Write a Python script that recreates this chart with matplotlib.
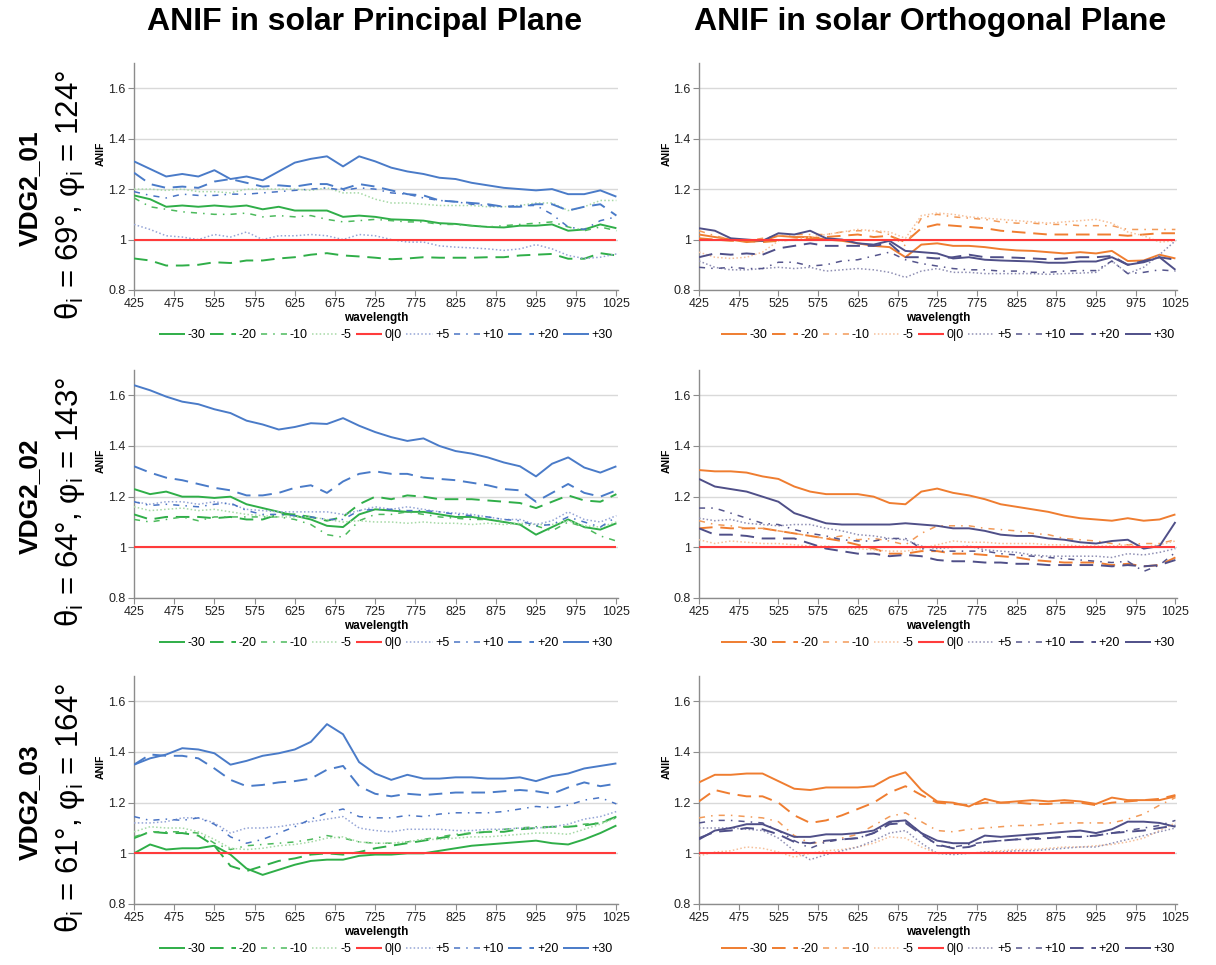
import matplotlib
matplotlib.use("Agg")
import matplotlib.pyplot as plt

plt.rcParams['font.family'] = ['Liberation Sans', 'DejaVu Sans']
plt.rcParams['mathtext.default'] = 'regular'

# wavelength grid (nm)
wl = [425, 445, 465, 485, 505, 525, 545, 565, 585, 605, 625, 645, 665, 685, 705,
      725, 745, 765, 785, 805, 825, 845, 865, 885, 905, 925, 945, 965, 985, 1005, 1025]

series_labels = ['-30', '-20', '-10', '-5', '0|0', '+5', '+10', '+20', '+30']
ref_00 = [1.0] * len(wl)

# VDG2_01 principal plane
pp01_m30 = [1.175, 1.16, 1.13, 1.135, 1.13, 1.135, 1.13, 1.135, 1.12, 1.13, 1.115, 1.115, 1.115, 1.09, 1.095, 1.09,
            1.08, 1.078, 1.075, 1.065, 1.062, 1.055, 1.05, 1.048, 1.055, 1.055, 1.06, 1.035, 1.04, 1.06, 1.045]
pp01_m20 = [0.925, 0.917, 0.897, 0.897, 0.9, 0.91, 0.907, 0.917, 0.917, 0.925, 0.93, 0.94, 0.946, 0.937, 0.933, 0.928,
            0.922, 0.925, 0.93, 0.928, 0.928, 0.928, 0.93, 0.93, 0.937, 0.94, 0.943, 0.924, 0.924, 0.946, 0.937]
pp01_m10 = [1.165, 1.13, 1.12, 1.11, 1.105, 1.1, 1.1, 1.105, 1.09, 1.095, 1.09, 1.095, 1.08, 1.07, 1.075, 1.08,
            1.075, 1.07, 1.07, 1.06, 1.06, 1.055, 1.05, 1.055, 1.06, 1.065, 1.07, 1.05, 1.035, 1.05, 1.035]
pp01_m5 = [1.2, 1.2, 1.195, 1.2, 1.19, 1.19, 1.185, 1.2, 1.2, 1.2, 1.2, 1.195, 1.205, 1.185, 1.185, 1.16,
           1.145, 1.145, 1.14, 1.135, 1.135, 1.135, 1.13, 1.13, 1.135, 1.145, 1.145, 1.115, 1.13, 1.155, 1.155]
pp01_p5 = [1.06, 1.04, 1.015, 1.01, 1.0, 1.02, 1.01, 1.03, 1.0, 1.015, 1.015, 1.02, 1.015, 1.0, 1.02, 1.015,
           1.0, 0.99, 0.99, 0.975, 0.97, 0.967, 0.963, 0.957, 0.963, 0.98, 0.963, 0.937, 0.925, 0.93, 0.943]
pp01_p10 = [1.19, 1.175, 1.165, 1.18, 1.175, 1.175, 1.18, 1.18, 1.185, 1.19, 1.195, 1.2, 1.205, 1.195, 1.205, 1.2,
            1.185, 1.18, 1.165, 1.155, 1.15, 1.14, 1.135, 1.13, 1.135, 1.135, 1.1, 1.05, 1.04, 1.075, 1.09]
pp01_p20 = [1.265, 1.22, 1.205, 1.21, 1.205, 1.23, 1.24, 1.225, 1.21, 1.215, 1.21, 1.22, 1.22, 1.2, 1.22, 1.21,
            1.195, 1.18, 1.175, 1.155, 1.15, 1.145, 1.14, 1.13, 1.13, 1.14, 1.14, 1.115, 1.13, 1.14, 1.095]
pp01_p30 = [1.31, 1.28, 1.25, 1.26, 1.25, 1.275, 1.24, 1.25, 1.235, 1.27, 1.305, 1.32, 1.33, 1.29, 1.33, 1.31,
            1.285, 1.27, 1.26, 1.245, 1.24, 1.225, 1.215, 1.205, 1.2, 1.195, 1.2, 1.18, 1.18, 1.195, 1.17]

# VDG2_01 orthogonal plane
op01_m30 = [1.02, 1.01, 1.0, 0.99, 0.995, 1.015, 1.01, 1.01, 1.0, 0.995, 0.985, 0.975, 0.97, 0.93, 0.98, 0.985,
            0.975, 0.975, 0.97, 0.962, 0.957, 0.955, 0.95, 0.945, 0.95, 0.945, 0.955, 0.915, 0.917, 0.94, 0.925]
op01_m20 = [1.005, 1.0, 0.995, 0.995, 0.99, 0.995, 1.0, 1.005, 1.01, 1.015, 1.02, 1.01, 1.015, 0.99, 1.045, 1.06,
            1.055, 1.05, 1.045, 1.035, 1.03, 1.025, 1.02, 1.02, 1.02, 1.02, 1.02, 1.015, 1.02, 1.025, 1.025]
op01_m10 = [1.035, 1.015, 1.0, 0.995, 1.005, 1.015, 1.02, 1.02, 1.02, 1.03, 1.035, 1.035, 1.02, 0.975, 1.085, 1.1,
            1.09, 1.085, 1.08, 1.07, 1.065, 1.065, 1.06, 1.06, 1.055, 1.055, 1.055, 1.04, 1.04, 1.04, 1.04]
op01_m5 = [0.95, 0.93, 0.925, 0.93, 0.95, 0.995, 1.0, 1.01, 1.02, 1.03, 1.04, 1.035, 1.03, 1.005, 1.095, 1.105,
           1.1, 1.09, 1.085, 1.08, 1.075, 1.07, 1.065, 1.07, 1.075, 1.08, 1.065, 1.03, 1.015, 0.99, 0.995]
op01_p5 = [0.915, 0.89, 0.88, 0.88, 0.885, 0.89, 0.885, 0.89, 0.875, 0.88, 0.885, 0.88, 0.87, 0.85, 0.875, 0.885,
           0.87, 0.87, 0.865, 0.865, 0.865, 0.865, 0.862, 0.865, 0.867, 0.87, 0.915, 0.865, 0.89, 0.94, 0.995]
op01_p10 = [0.89, 0.885, 0.89, 0.885, 0.885, 0.91, 0.91, 0.895, 0.9, 0.915, 0.92, 0.935, 0.95, 0.92, 0.905, 0.895,
            0.885, 0.88, 0.88, 0.875, 0.875, 0.87, 0.87, 0.875, 0.877, 0.877, 0.915, 0.865, 0.87, 0.88, 0.875]
op01_p20 = [0.93, 0.945, 0.94, 0.945, 0.94, 0.965, 0.975, 0.985, 0.975, 0.975, 0.975, 0.975, 0.985, 0.93, 0.93, 0.925,
            0.93, 0.94, 0.93, 0.93, 0.928, 0.925, 0.922, 0.925, 0.93, 0.93, 0.935, 0.9, 0.915, 0.93, 0.92]
op01_p30 = [1.045, 1.035, 1.005, 1.0, 0.995, 1.025, 1.02, 1.035, 1.005, 1.0, 0.985, 0.98, 0.995, 0.955, 0.95, 0.945,
            0.925, 0.93, 0.92, 0.917, 0.915, 0.913, 0.908, 0.908, 0.913, 0.913, 0.93, 0.9, 0.91, 0.93, 0.88]

# VDG2_02 principal plane
pp02_m30 = [1.23, 1.21, 1.22, 1.2, 1.2, 1.195, 1.2, 1.17, 1.155, 1.14, 1.125, 1.11, 1.085, 1.08, 1.13, 1.15,
            1.145, 1.14, 1.14, 1.13, 1.12, 1.12, 1.11, 1.1, 1.09, 1.05, 1.08, 1.11, 1.08, 1.07, 1.095]
pp02_m20 = [1.13, 1.11, 1.12, 1.12, 1.12, 1.115, 1.12, 1.11, 1.11, 1.13, 1.13, 1.12, 1.105, 1.12, 1.17, 1.2,
            1.19, 1.205, 1.2, 1.19, 1.19, 1.19, 1.185, 1.18, 1.175, 1.155, 1.18, 1.205, 1.185, 1.18, 1.21]
pp02_m10 = [1.11, 1.1, 1.11, 1.12, 1.105, 1.12, 1.12, 1.12, 1.12, 1.12, 1.11, 1.09, 1.05, 1.04, 1.105, 1.13,
            1.13, 1.14, 1.13, 1.12, 1.115, 1.11, 1.11, 1.1, 1.09, 1.085, 1.065, 1.1, 1.08, 1.045, 1.025]
pp02_m5 = [1.16, 1.145, 1.15, 1.155, 1.145, 1.15, 1.14, 1.13, 1.125, 1.12, 1.12, 1.12, 1.11, 1.1, 1.105, 1.1,
           1.1, 1.095, 1.1, 1.095, 1.095, 1.09, 1.095, 1.09, 1.095, 1.09, 1.09, 1.105, 1.085, 1.08, 1.1]
pp02_p5 = [1.18, 1.17, 1.18, 1.18, 1.17, 1.18, 1.17, 1.15, 1.145, 1.14, 1.14, 1.14, 1.14, 1.13, 1.145, 1.16,
           1.15, 1.16, 1.15, 1.14, 1.135, 1.13, 1.12, 1.11, 1.11, 1.09, 1.105, 1.14, 1.11, 1.1, 1.125]
pp02_p10 = [1.18, 1.165, 1.17, 1.165, 1.16, 1.17, 1.175, 1.145, 1.13, 1.13, 1.125, 1.12, 1.11, 1.11, 1.145, 1.15,
            1.15, 1.145, 1.145, 1.14, 1.13, 1.125, 1.12, 1.11, 1.105, 1.085, 1.09, 1.12, 1.1, 1.08, 1.12]
pp02_p20 = [1.32, 1.295, 1.275, 1.265, 1.25, 1.235, 1.225, 1.205, 1.205, 1.215, 1.235, 1.245, 1.215, 1.26, 1.29, 1.3,
            1.29, 1.29, 1.275, 1.27, 1.265, 1.255, 1.245, 1.23, 1.225, 1.18, 1.215, 1.25, 1.215, 1.2, 1.225]
pp02_p30 = [1.64, 1.62, 1.595, 1.575, 1.565, 1.545, 1.53, 1.5, 1.485, 1.465, 1.475, 1.49, 1.487, 1.51, 1.48, 1.455,
            1.435, 1.42, 1.43, 1.4, 1.38, 1.37, 1.355, 1.335, 1.32, 1.28, 1.33, 1.355, 1.315, 1.295, 1.32]

# VDG2_02 orthogonal plane
op02_m30 = [1.305, 1.3, 1.3, 1.295, 1.28, 1.27, 1.24, 1.22, 1.21, 1.21, 1.21, 1.2, 1.175, 1.17, 1.22, 1.232,
            1.215, 1.205, 1.19, 1.17, 1.16, 1.15, 1.14, 1.125, 1.115, 1.11, 1.105, 1.115, 1.105, 1.11, 1.13]
op02_m20 = [1.075, 1.08, 1.075, 1.075, 1.075, 1.065, 1.055, 1.045, 1.035, 1.025, 1.01, 0.995, 0.975, 0.975, 0.985, 0.985,
            0.975, 0.975, 0.97, 0.965, 0.96, 0.95, 0.945, 0.94, 0.94, 0.94, 0.93, 0.935, 0.925, 0.93, 0.96]
op02_m10 = [1.105, 1.09, 1.085, 1.075, 1.075, 1.065, 1.055, 1.045, 1.035, 1.045, 1.03, 1.035, 1.025, 1.01, 1.055, 1.085,
            1.085, 1.085, 1.075, 1.07, 1.065, 1.055, 1.05, 1.035, 1.03, 1.025, 1.015, 1.01, 1.015, 1.015, 1.03]
op02_m5 = [1.03, 1.015, 1.025, 1.02, 1.015, 1.015, 1.01, 1.005, 1.005, 1.0, 0.995, 0.99, 0.985, 0.985, 0.995, 1.01,
           1.025, 1.02, 1.02, 1.015, 1.015, 1.015, 1.01, 1.01, 1.005, 1.005, 1.005, 1.01, 1.0, 1.01, 1.025]
op02_p5 = [1.115, 1.105, 1.11, 1.095, 1.09, 1.085, 1.09, 1.09, 1.075, 1.065, 1.05, 1.045, 1.035, 1.03, 1.005, 0.995,
           1.0, 1.005, 0.99, 0.985, 0.98, 0.97, 0.965, 0.965, 0.965, 0.965, 0.96, 0.975, 0.97, 0.98, 0.995]
op02_p10 = [1.155, 1.155, 1.135, 1.115, 1.095, 1.09, 1.07, 1.055, 1.045, 1.03, 1.025, 1.025, 1.035, 1.035, 0.995, 0.985,
            0.985, 0.985, 0.985, 0.975, 0.97, 0.965, 0.96, 0.955, 0.95, 0.945, 0.94, 0.945, 0.905, 0.93, 0.98]
op02_p20 = [1.075, 1.05, 1.05, 1.045, 1.035, 1.035, 1.035, 1.015, 0.995, 0.985, 0.975, 0.975, 0.965, 0.97, 0.965, 0.95,
            0.945, 0.945, 0.94, 0.94, 0.935, 0.935, 0.93, 0.93, 0.93, 0.93, 0.925, 0.93, 0.925, 0.93, 0.95]
op02_p30 = [1.27, 1.24, 1.23, 1.22, 1.2, 1.18, 1.135, 1.115, 1.095, 1.09, 1.09, 1.09, 1.09, 1.095, 1.09, 1.085,
            1.075, 1.075, 1.065, 1.05, 1.045, 1.045, 1.035, 1.03, 1.02, 1.015, 1.025, 1.03, 0.995, 1.005, 1.1]

# VDG2_03 principal plane
pp03_m30 = [1.0, 1.035, 1.015, 1.02, 1.02, 1.03, 0.995, 0.94, 0.915, 0.935, 0.955, 0.97, 0.975, 0.975, 0.99, 0.995,
            0.995, 1.0, 1.0, 1.01, 1.02, 1.03, 1.035, 1.04, 1.045, 1.05, 1.04, 1.035, 1.055, 1.08, 1.11]
pp03_m20 = [1.06, 1.085, 1.08, 1.08, 1.07, 1.03, 0.95, 0.93, 0.95, 0.97, 0.98, 0.995, 1.0, 0.995, 1.005, 1.02,
            1.03, 1.04, 1.05, 1.06, 1.07, 1.08, 1.085, 1.085, 1.095, 1.1, 1.105, 1.105, 1.11, 1.12, 1.145]
pp03_m10 = [1.065, 1.085, 1.085, 1.085, 1.08, 1.04, 1.015, 1.03, 1.035, 1.04, 1.045, 1.055, 1.07, 1.06, 1.045, 1.04,
            1.04, 1.045, 1.055, 1.065, 1.075, 1.08, 1.085, 1.095, 1.1, 1.105, 1.105, 1.105, 1.115, 1.12, 1.14]
pp03_m5 = [1.085, 1.105, 1.1, 1.1, 1.085, 1.055, 1.02, 1.015, 1.02, 1.03, 1.035, 1.045, 1.06, 1.065, 1.045, 1.04,
           1.04, 1.045, 1.055, 1.055, 1.06, 1.065, 1.065, 1.07, 1.075, 1.08, 1.08, 1.075, 1.095, 1.115, 1.14]
pp03_p5 = [1.12, 1.12, 1.125, 1.14, 1.14, 1.12, 1.08, 1.1, 1.1, 1.105, 1.115, 1.125, 1.135, 1.145, 1.1, 1.09,
           1.085, 1.095, 1.095, 1.095, 1.09, 1.09, 1.095, 1.095, 1.1, 1.1, 1.105, 1.115, 1.135, 1.145, 1.165]
pp03_p10 = [1.145, 1.13, 1.135, 1.13, 1.14, 1.115, 1.065, 1.04, 1.055, 1.08, 1.105, 1.135, 1.16, 1.175, 1.145, 1.14,
            1.14, 1.15, 1.145, 1.155, 1.16, 1.16, 1.16, 1.165, 1.175, 1.185, 1.18, 1.19, 1.21, 1.22, 1.195]
pp03_p20 = [1.35, 1.39, 1.385, 1.385, 1.375, 1.335, 1.29, 1.265, 1.27, 1.28, 1.285, 1.295, 1.33, 1.345, 1.265, 1.235,
            1.225, 1.235, 1.23, 1.235, 1.24, 1.24, 1.24, 1.245, 1.25, 1.245, 1.235, 1.26, 1.28, 1.265, 1.275]
pp03_p30 = [1.35, 1.375, 1.39, 1.415, 1.41, 1.395, 1.35, 1.365, 1.385, 1.395, 1.41, 1.44, 1.51, 1.47, 1.36, 1.315,
            1.29, 1.31, 1.295, 1.295, 1.3, 1.3, 1.295, 1.295, 1.3, 1.285, 1.305, 1.315, 1.335, 1.345, 1.355]

# VDG2_03 orthogonal plane
op03_m30 = [1.28, 1.31, 1.31, 1.315, 1.315, 1.285, 1.255, 1.25, 1.26, 1.26, 1.26, 1.265, 1.3, 1.32, 1.25, 1.205,
            1.2, 1.185, 1.215, 1.2, 1.205, 1.21, 1.205, 1.21, 1.205, 1.195, 1.22, 1.21, 1.21, 1.21, 1.225]
op03_m20 = [1.205, 1.25, 1.235, 1.225, 1.225, 1.2, 1.15, 1.12, 1.13, 1.15, 1.175, 1.2, 1.24, 1.265, 1.23, 1.2,
            1.195, 1.19, 1.2, 1.2, 1.2, 1.195, 1.195, 1.2, 1.2, 1.19, 1.2, 1.205, 1.21, 1.215, 1.23]
op03_m10 = [1.14, 1.15, 1.15, 1.145, 1.14, 1.125, 1.07, 1.04, 1.045, 1.06, 1.075, 1.11, 1.145, 1.16, 1.125, 1.09,
            1.085, 1.095, 1.1, 1.105, 1.11, 1.11, 1.115, 1.12, 1.12, 1.12, 1.12, 1.135, 1.155, 1.19, 1.22]
op03_m5 = [0.99, 1.005, 1.01, 1.025, 1.02, 1.005, 0.985, 1.0, 1.01, 1.015, 1.025, 1.04, 1.065, 1.06, 1.025, 1.0,
           1.0, 1.0, 1.005, 1.01, 1.015, 1.015, 1.02, 1.025, 1.025, 1.03, 1.035, 1.045, 1.06, 1.09, 1.12]
op03_p5 = [1.1, 1.1, 1.1, 1.095, 1.09, 1.06, 1.01, 0.975, 0.995, 1.01, 1.025, 1.05, 1.08, 1.09, 1.04, 1.0,
           0.995, 1.0, 1.005, 1.005, 1.01, 1.01, 1.015, 1.02, 1.025, 1.025, 1.04, 1.055, 1.07, 1.085, 1.1]
op03_p10 = [1.12, 1.13, 1.13, 1.125, 1.12, 1.09, 1.05, 1.02, 1.045, 1.055, 1.06, 1.08, 1.12, 1.13, 1.08, 1.03,
            1.025, 1.035, 1.045, 1.05, 1.055, 1.055, 1.06, 1.065, 1.065, 1.07, 1.08, 1.09, 1.1, 1.11, 1.13]
op03_p20 = [1.06, 1.085, 1.09, 1.1, 1.095, 1.075, 1.045, 1.04, 1.05, 1.055, 1.06, 1.08, 1.115, 1.12, 1.075, 1.035,
            1.02, 1.025, 1.045, 1.05, 1.055, 1.06, 1.06, 1.065, 1.065, 1.07, 1.08, 1.085, 1.09, 1.1, 1.11]
op03_p30 = [1.055, 1.09, 1.1, 1.115, 1.115, 1.09, 1.065, 1.065, 1.075, 1.075, 1.08, 1.09, 1.125, 1.13, 1.08, 1.05,
            1.04, 1.04, 1.07, 1.065, 1.07, 1.075, 1.08, 1.085, 1.09, 1.08, 1.095, 1.125, 1.125, 1.12, 1.105]

panels = [
    [[pp01_m30, pp01_m20, pp01_m10, pp01_m5, ref_00, pp01_p5, pp01_p10, pp01_p20, pp01_p30],
     [op01_m30, op01_m20, op01_m10, op01_m5, ref_00, op01_p5, op01_p10, op01_p20, op01_p30]],
    [[pp02_m30, pp02_m20, pp02_m10, pp02_m5, ref_00, pp02_p5, pp02_p10, pp02_p20, pp02_p30],
     [op02_m30, op02_m20, op02_m10, op02_m5, ref_00, op02_p5, op02_p10, op02_p20, op02_p30]],
    [[pp03_m30, pp03_m20, pp03_m10, pp03_m5, ref_00, pp03_p5, pp03_p10, pp03_p20, pp03_p30],
     [op03_m30, op03_m20, op03_m10, op03_m5, ref_00, op03_p5, op03_p10, op03_p20, op03_p30]],
]

col_titles = ['ANIF in solar Principal Plane', 'ANIF in solar Orthogonal Plane']
row_names = ['VDG2_01', 'VDG2_02', 'VDG2_03']
row_angles = ['θ$_{i}$ = 69°, φ$_{i}$ = 124°',
              'θ$_{i}$ = 64°, φ$_{i}$ = 143°',
              'θ$_{i}$ = 61°, φ$_{i}$ = 164°']

# colours per column: -30,-20,-10,-5,0|0,+5,+10,+20,+30
colors = [
    ['#2fae48', '#2fae48', '#4cba5c', '#a6d9a6', '#ff3b3b', '#95a5d6', '#4a74c4', '#4a7bc8', '#4a7bc8'],
    ['#ef7d30', '#ef7d30', '#f29a58', '#f6c09a', '#ff3b3b', '#9090b4', '#55558c', '#4f4f88', '#4f4f88'],
]
dash = [(0, ()), (0, (7, 4)), (0, (4, 4, 1, 4)), (0, (1, 1.5)), (0, ()),
        (0, (1, 1.5)), (0, (4, 4, 1, 4)), (0, (7, 4)), (0, ())]
widths = [1.4, 1.4, 1.1, 1.1, 1.5, 1.1, 1.1, 1.4, 1.4]

fig = plt.figure(figsize=(12.16, 9.65), dpi=100)
W, H = 1216, 965
col_x = [(134, 618), (699, 1177)]
row_y = [(63, 290), (370, 598), (676, 904)]

for r in range(3):
    for c in range(2):
        x0, x1 = col_x[c]
        y0, y1 = row_y[r]
        ax = fig.add_axes([x0 / W, 1 - y1 / H, (x1 - x0) / W, (y1 - y0) / H])
        for k, vals in enumerate(panels[r][c]):
            ax.plot(wl, vals, color=colors[c][k], linestyle=dash[k], lw=widths[k],
                    label=series_labels[k], zorder=5 if k == 4 else 3)
        ax.set_xlim(425, 1027)
        ax.set_ylim(0.8, 1.7)
        ax.set_xticks(list(range(425, 1026, 50)))
        ax.set_yticks([0.8, 1.0, 1.2, 1.4, 1.6])
        ax.set_yticklabels(['0.8', '1', '1.2', '1.4', '1.6'])
        ax.tick_params(labelsize=9, colors='#222222', length=4, width=0.8, direction='out', pad=2)
        ax.tick_params(axis='both', color='#8c8c8c')
        for s in ['top', 'right']:
            ax.spines[s].set_visible(False)
        for s in ['left', 'bottom']:
            ax.spines[s].set_color('#8c8c8c')
            ax.spines[s].set_linewidth(1.0)
        ax.grid(axis='y', color='#d9d9d9', lw=1.0)
        ax.set_axisbelow(True)
        ax.set_xlabel('wavelength', fontsize=8.5, fontweight='bold', labelpad=1)
        ax.set_ylabel('ANIF', fontsize=7.5, fontweight='bold')
        ax.yaxis.set_label_coords(-0.058, 0.6)
        ax.legend(loc='upper center', bbox_to_anchor=(0.52, -0.15), ncol=9, frameon=False,
                  fontsize=9, handlelength=2.1, handletextpad=0.2, columnspacing=0.35,
                  borderaxespad=0)

title_x = [365, 930]
for c in range(2):
    fig.text(title_x[c] / W, 1 - 22 / H, col_titles[c], ha='center', va='center',
             fontsize=23, fontweight='bold')

for r in range(3):
    yc = (row_y[r][0] + row_y[r][1]) / 2
    fig.text(30 / W, 1 - (yc + 12) / H, row_names[r], rotation=90, ha='center', va='center',
             fontsize=19, fontweight='bold')
    fig.text(70 / W, 1 - (yc + 18) / H, row_angles[r], rotation=90, ha='center', va='center',
             fontsize=22.5)

fig.savefig('out.png', dpi=100)
